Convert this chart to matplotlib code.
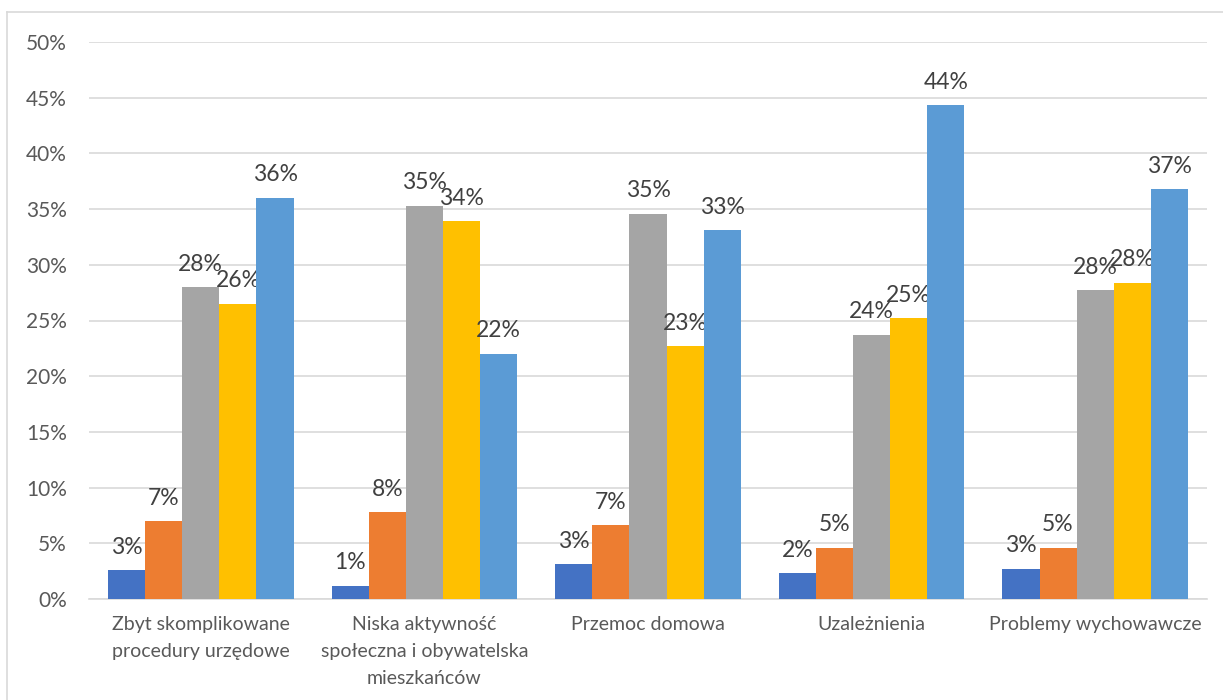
import numpy as np
import matplotlib.pyplot as plt
from matplotlib.lines import Line2D

plt.rcParams['font.family'] = ['Lato', 'DejaVu Sans']

categories = ["Zbyt skomplikowane\nprocedury urzędowe",
              "Niska aktywność\nspołeczna i obywatelska\nmieszkańców",
              "Przemoc domowa",
              "Uzależnienia",
              "Problemy wychowawcze"]

# five answer series (no legend in the source)
s1 = [2.6, 1.2, 3.1, 2.3, 2.7]
s2 = [7.0, 7.8, 6.6, 4.6, 4.6]
s3 = [28.0, 35.3, 34.6, 23.7, 27.7]
s4 = [26.5, 33.9, 22.7, 25.2, 28.4]
s5 = [36.0, 22.0, 33.1, 44.3, 36.8]
series = [s1, s2, s3, s4, s5]
colors = ["#4472C4", "#ED7D31", "#A5A5A5", "#FFC000", "#5B9BD5"]

yticks = np.arange(0, 51, 5)

fig = plt.figure(figsize=(12.23, 7), dpi=100)
ax = fig.add_axes([89 / 1223, 101 / 700, (1207 - 89) / 1223, (599 - 42) / 700])

x = np.arange(len(categories))
w = 0.166
for i, (vals, c) in enumerate(zip(series, colors)):
    pos = x + (i - 2) * w
    bars = ax.bar(pos, vals, width=w, color=c, zorder=3)
    for b, v in zip(bars, vals):
        ax.annotate(f"{v:.0f}%", (b.get_x() + b.get_width() / 2, v),
                    xytext=(0, 9), textcoords="offset points",
                    ha="center", va="bottom", fontsize=16.5, color="#404040")

ax.set_xlim(-0.5, len(categories) - 0.5)
ax.set_ylim(0, 50)
ax.set_yticks(yticks)
ax.set_yticklabels([f"{t}%" for t in yticks])
ax.set_xticks(x)
ax.set_xticklabels([])
# category labels drawn as annotations so the line spacing sticks
for xi, name in zip(x, categories):
    ax.annotate(name, (xi, 0), xycoords=('data', 'axes fraction'),
                xytext=(0, -12), textcoords="offset points",
                ha="center", va="top", fontsize=14, color="#595959",
                linespacing=1.72)
ax.tick_params(axis='y', length=0, pad=16, labelsize=15, labelcolor="#595959")
ax.tick_params(axis='x', length=0)
ax.grid(axis='y', color="#d9d9d9", linewidth=1.2, zorder=0)
for s in ["top", "right", "left"]:
    ax.spines[s].set_visible(False)
ax.spines["bottom"].set_color("#d9d9d9")
ax.spines["bottom"].set_linewidth(1.2)

# chart frame
fig.add_artist(Line2D([7 / 1223, 1], [1 - 12 / 700] * 2, color="#d9d9d9", lw=1.2))
fig.add_artist(Line2D([7 / 1223] * 2, [0, 1 - 12 / 700], color="#d9d9d9", lw=1.2))

fig.savefig("out.png", dpi=100)
